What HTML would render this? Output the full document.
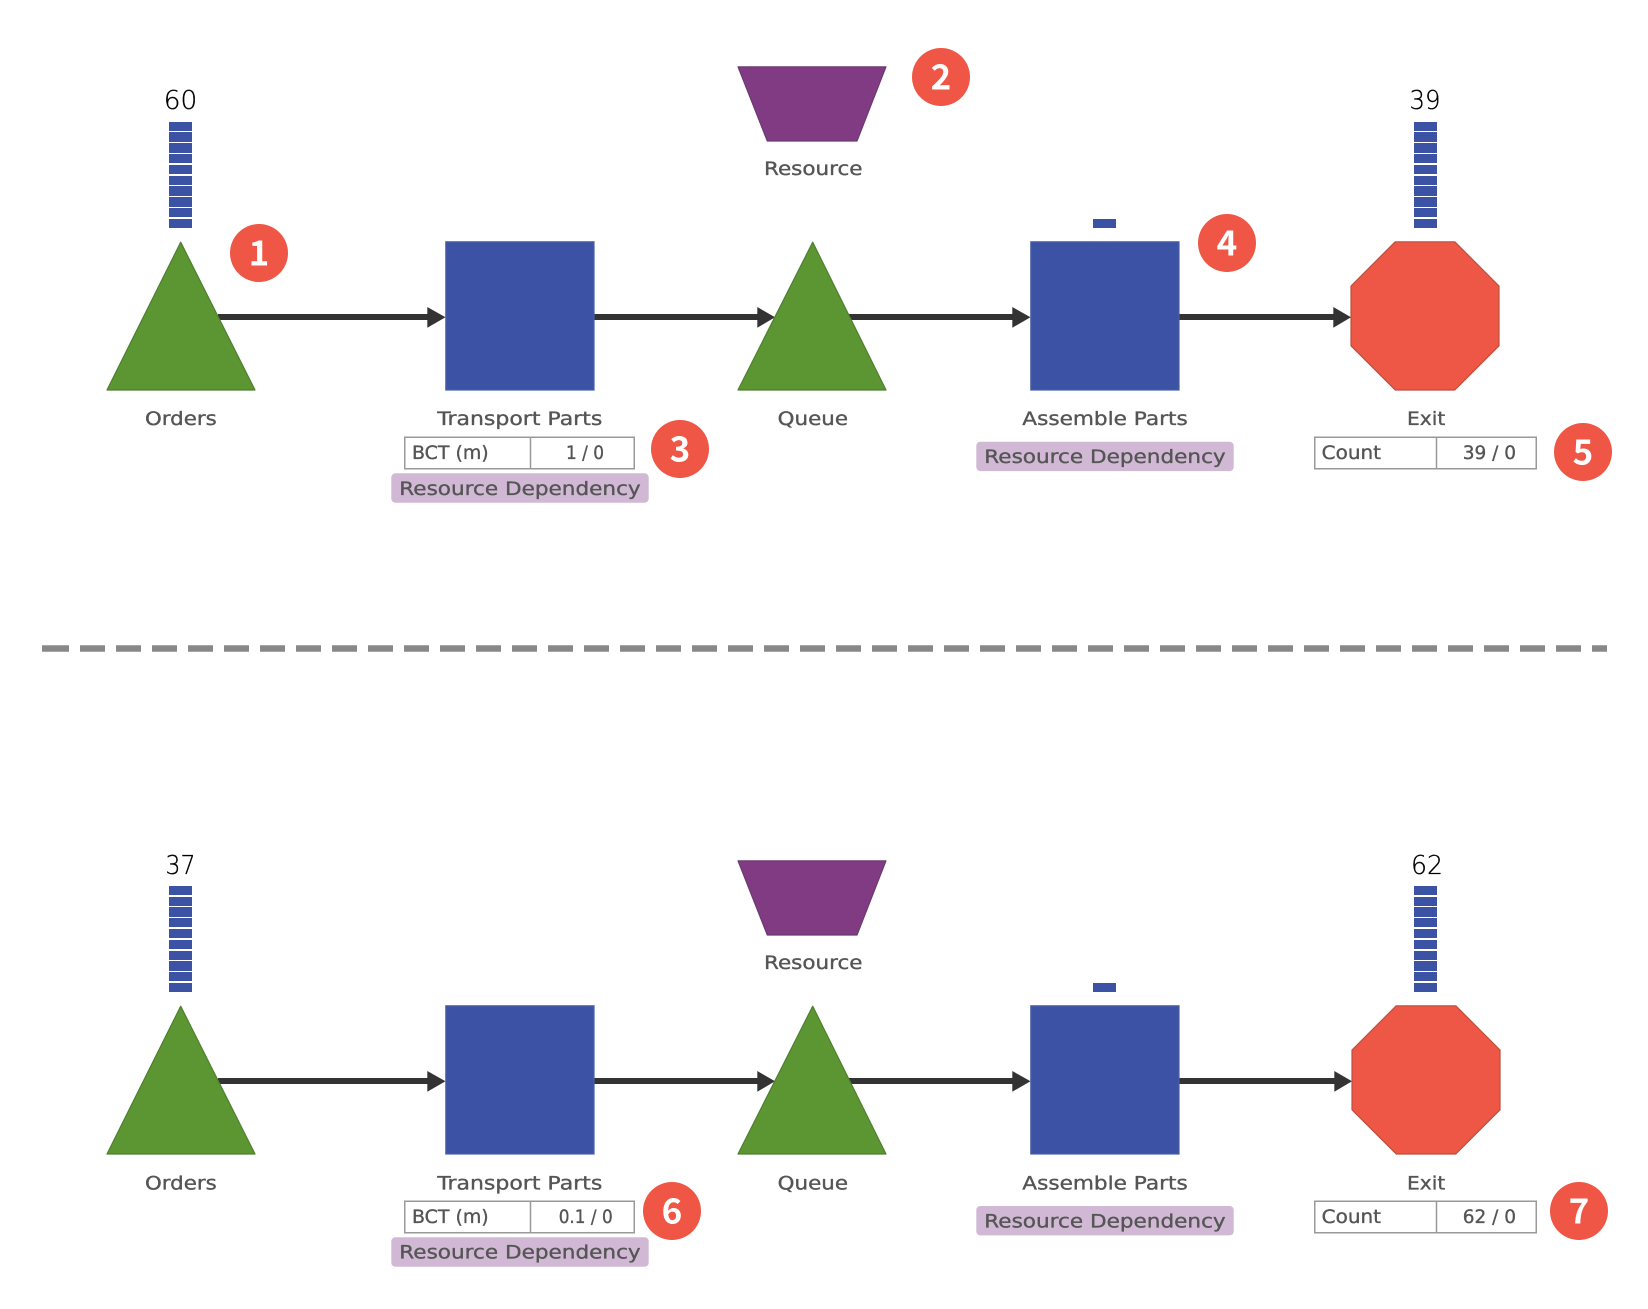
<!DOCTYPE html>
<html><head><meta charset="utf-8"><style>
html,body{margin:0;padding:0;background:#fff;width:1648px;height:1309px;overflow:hidden}
svg{display:block}
text{font-family:"DejaVu Sans","Liberation Sans",sans-serif}
.l,.t{font-size:19px;fill:#555;stroke:#555;stroke-width:.35}
.n{font-size:25.5px;fill:#000;stroke:#000;stroke-width:.3;font-weight:200}
.b{font-family:"Noto Sans CJK SC","Liberation Sans",sans-serif;font-size:35px;font-weight:700;fill:#fff;text-anchor:middle}
.bx{fill:#fff;stroke:#999;stroke-width:1.5}
.d{fill:#d1b9d5}
</style></head><body>
<svg width="1648" height="1309" viewBox="0 0 1648 1309" xmlns="http://www.w3.org/2000/svg">
<defs>
<g id="bars" fill="#3c53a5">
<rect y="122" width="23" height="9"/><rect y="132" width="23" height="10"/><rect y="143" width="23" height="10"/><rect y="154" width="23" height="9"/><rect y="165" width="23" height="9"/><rect y="176" width="23" height="9"/><rect y="186" width="23" height="10"/><rect y="197" width="23" height="10"/><rect y="208" width="23" height="9"/><rect y="219" width="23" height="9"/>
</g>
<g id="bars2" fill="#3c53a5">
<rect y="886" width="23" height="9"/><rect y="897" width="23" height="9"/><rect y="907" width="23" height="10"/><rect y="918" width="23" height="9"/><rect y="929" width="23" height="9"/><rect y="940" width="23" height="9"/><rect y="951" width="23" height="9"/><rect y="961" width="23" height="10"/><rect y="972" width="23" height="9"/><rect y="983" width="23" height="9"/>
</g>
<g id="flow">
<g fill="#333">
<rect x="218" y="314" width="210" height="6"/><path d="M427.300 307L445.500 317.300L427.300 327.700Z"/>
<rect x="594" y="314" width="164" height="6"/><path d="M757.300 307L775 317.300L757.300 327.700Z"/>
<rect x="848" y="314" width="165" height="6"/><path d="M1012.300 307L1030.500 317.300L1012.300 327.700Z"/>
<rect x="1179" y="314" width="155" height="6"/>
</g>
<path d="M180.700 242.200L255 390L107 390Z" fill="#5c9632" stroke="#4f7f2f" stroke-width="1.200" stroke-linejoin="round"/>
<rect x="445.800" y="241.800" width="148.200" height="148.200" fill="#3c53a5" stroke="#4a5ea8" stroke-width="1.200"/>
<path d="M812.700 242.200L886 390L738 390Z" fill="#5c9632" stroke="#4f7f2f" stroke-width="1.200" stroke-linejoin="round"/>
<rect x="1030.800" y="241.800" width="148.200" height="148.200" fill="#3c53a5" stroke="#4a5ea8" stroke-width="1.200"/>
<rect x="1093" y="219" width="23" height="9" fill="#3c53a5"/>
</g>
</defs>

<use href="#flow"/>
<use href="#bars" x="169"/>
<use href="#bars" x="1414"/>
<path d="M738 66.800H886L857 141H767.300Z" fill="#803b83" stroke="#6b3a70" stroke-width="1.200" stroke-linejoin="round"/>
<path d="M1333.300 307L1351 317.300L1333.300 327.700Z" fill="#333"/>
<path d="M1395.200 241.800H1454.800L1499 286V345.800L1454.800 390H1395.200L1351 345.800V286Z" fill="#ee5645" stroke="#b9503f" stroke-width="1.200" stroke-linejoin="round"/>

<text class="n" x="163.800" y="109" textLength="33.500" lengthAdjust="spacingAndGlyphs">60</text>
<text class="n" x="1409.500" y="109" textLength="31" lengthAdjust="spacingAndGlyphs">39</text>
<text class="l" x="764" y="175" textLength="98.500" lengthAdjust="spacingAndGlyphs">Resource</text>
<text class="l" x="145" y="425" textLength="71.700" lengthAdjust="spacingAndGlyphs">Orders</text>
<text class="l" x="437.300" y="425" textLength="165" lengthAdjust="spacingAndGlyphs">Transport Parts</text>
<text class="l" x="777.700" y="425" textLength="70.300" lengthAdjust="spacingAndGlyphs">Queue</text>
<text class="l" x="1022.300" y="425" textLength="165.400" lengthAdjust="spacingAndGlyphs">Assemble Parts</text>
<text class="l" x="1407" y="425" textLength="38.300" lengthAdjust="spacingAndGlyphs">Exit</text>

<rect class="bx" x="404.750" y="437.250" width="229.500" height="31.500"/><path d="M530.500 437V469" stroke="#999" stroke-width="1.500"/>
<text class="t" x="412" y="459" textLength="76.700" lengthAdjust="spacingAndGlyphs">BCT (m)</text>
<text class="t" x="566" y="459" textLength="38" lengthAdjust="spacingAndGlyphs">1 / 0</text>
<rect class="d" x="391.300" y="473.300" width="257.400" height="29.400" rx="4"/>
<text class="t" x="399.300" y="495" textLength="241.400" lengthAdjust="spacingAndGlyphs">Resource Dependency</text>
<rect class="d" x="976.300" y="441.700" width="257.400" height="29.400" rx="4"/>
<text class="t" x="984.300" y="463" textLength="241.400" lengthAdjust="spacingAndGlyphs">Resource Dependency</text>
<rect class="bx" x="1314.750" y="437.250" width="221.500" height="31.500"/><path d="M1436.500 437V469" stroke="#999" stroke-width="1.500"/>
<text class="t" x="1321.700" y="459" textLength="59.300" lengthAdjust="spacingAndGlyphs">Count</text>
<text class="t" x="1462.700" y="459" textLength="53.300" lengthAdjust="spacingAndGlyphs">39 / 0</text>

<use href="#flow" y="764"/>
<use href="#bars2" x="169"/>
<use href="#bars2" x="1414"/>
<path d="M738 860.800H886L857 935H767.300Z" fill="#803b83" stroke="#6b3a70" stroke-width="1.200" stroke-linejoin="round"/>
<path d="M1334.300 1071L1352 1081.300L1334.300 1091.700Z" fill="#333"/>
<rect x="1330" y="1078" width="6" height="6" fill="#333"/>
<path d="M1396.200 1005.800H1455.800L1500 1050V1109.800L1455.800 1154H1396.200L1352 1109.800V1050Z" fill="#ee5645" stroke="#b9503f" stroke-width="1.200" stroke-linejoin="round"/>

<text class="n" x="165.500" y="874" textLength="30" lengthAdjust="spacingAndGlyphs">37</text>
<text class="n" x="1411" y="874" textLength="32" lengthAdjust="spacingAndGlyphs">62</text>
<text class="l" x="764" y="969" textLength="98.500" lengthAdjust="spacingAndGlyphs">Resource</text>
<text class="l" x="145" y="1189.300" textLength="71.700" lengthAdjust="spacingAndGlyphs">Orders</text>
<text class="l" x="437.300" y="1189.300" textLength="165" lengthAdjust="spacingAndGlyphs">Transport Parts</text>
<text class="l" x="777.700" y="1189.300" textLength="70.300" lengthAdjust="spacingAndGlyphs">Queue</text>
<text class="l" x="1022.300" y="1189.300" textLength="165.400" lengthAdjust="spacingAndGlyphs">Assemble Parts</text>
<text class="l" x="1407" y="1189.300" textLength="38.300" lengthAdjust="spacingAndGlyphs">Exit</text>

<rect class="bx" x="404.750" y="1201.250" width="229.500" height="31.500"/><path d="M530.500 1201V1233" stroke="#999" stroke-width="1.500"/>
<text class="t" x="412" y="1222.800" textLength="76.700" lengthAdjust="spacingAndGlyphs">BCT (m)</text>
<text class="t" x="558.700" y="1222.800" textLength="54" lengthAdjust="spacingAndGlyphs">0.1 / 0</text>
<rect class="d" x="391.300" y="1237.300" width="257.400" height="29.400" rx="4"/>
<text class="t" x="399.300" y="1258.700" textLength="241.400" lengthAdjust="spacingAndGlyphs">Resource Dependency</text>
<rect class="d" x="976.300" y="1206" width="257.400" height="29.400" rx="4"/>
<text class="t" x="984.300" y="1227.300" textLength="241.400" lengthAdjust="spacingAndGlyphs">Resource Dependency</text>
<rect class="bx" x="1314.750" y="1201.250" width="221.500" height="31.500"/><path d="M1436.500 1201V1233" stroke="#999" stroke-width="1.500"/>
<text class="t" x="1321.700" y="1222.800" textLength="59.300" lengthAdjust="spacingAndGlyphs">Count</text>
<text class="t" x="1462.700" y="1222.800" textLength="53.300" lengthAdjust="spacingAndGlyphs">62 / 0</text>

<g stroke="#888" stroke-width="6.500" fill="none">
<path d="M42 648.500H69"/>
<path d="M80 648.500H1607" stroke-dasharray="25 11"/>
</g>

<g fill="#ef5645">
<circle cx="259" cy="253" r="29"/><circle cx="941" cy="77" r="29"/><circle cx="680" cy="449" r="29"/><circle cx="1227" cy="243" r="29"/><circle cx="1583" cy="452" r="29"/><circle cx="672" cy="1211" r="29"/><circle cx="1579" cy="1211" r="29"/>
</g>
<text class="b" x="259" y="265.700">1</text>
<text class="b" x="941" y="89.500">2</text>
<text class="b" x="680" y="461.700">3</text>
<text class="b" x="1227" y="255.500">4</text>
<text class="b" x="1583" y="464.500">5</text>
<text class="b" x="672" y="1223.500">6</text>
<text class="b" x="1579" y="1223.500">7</text>
</svg>
</body></html>
